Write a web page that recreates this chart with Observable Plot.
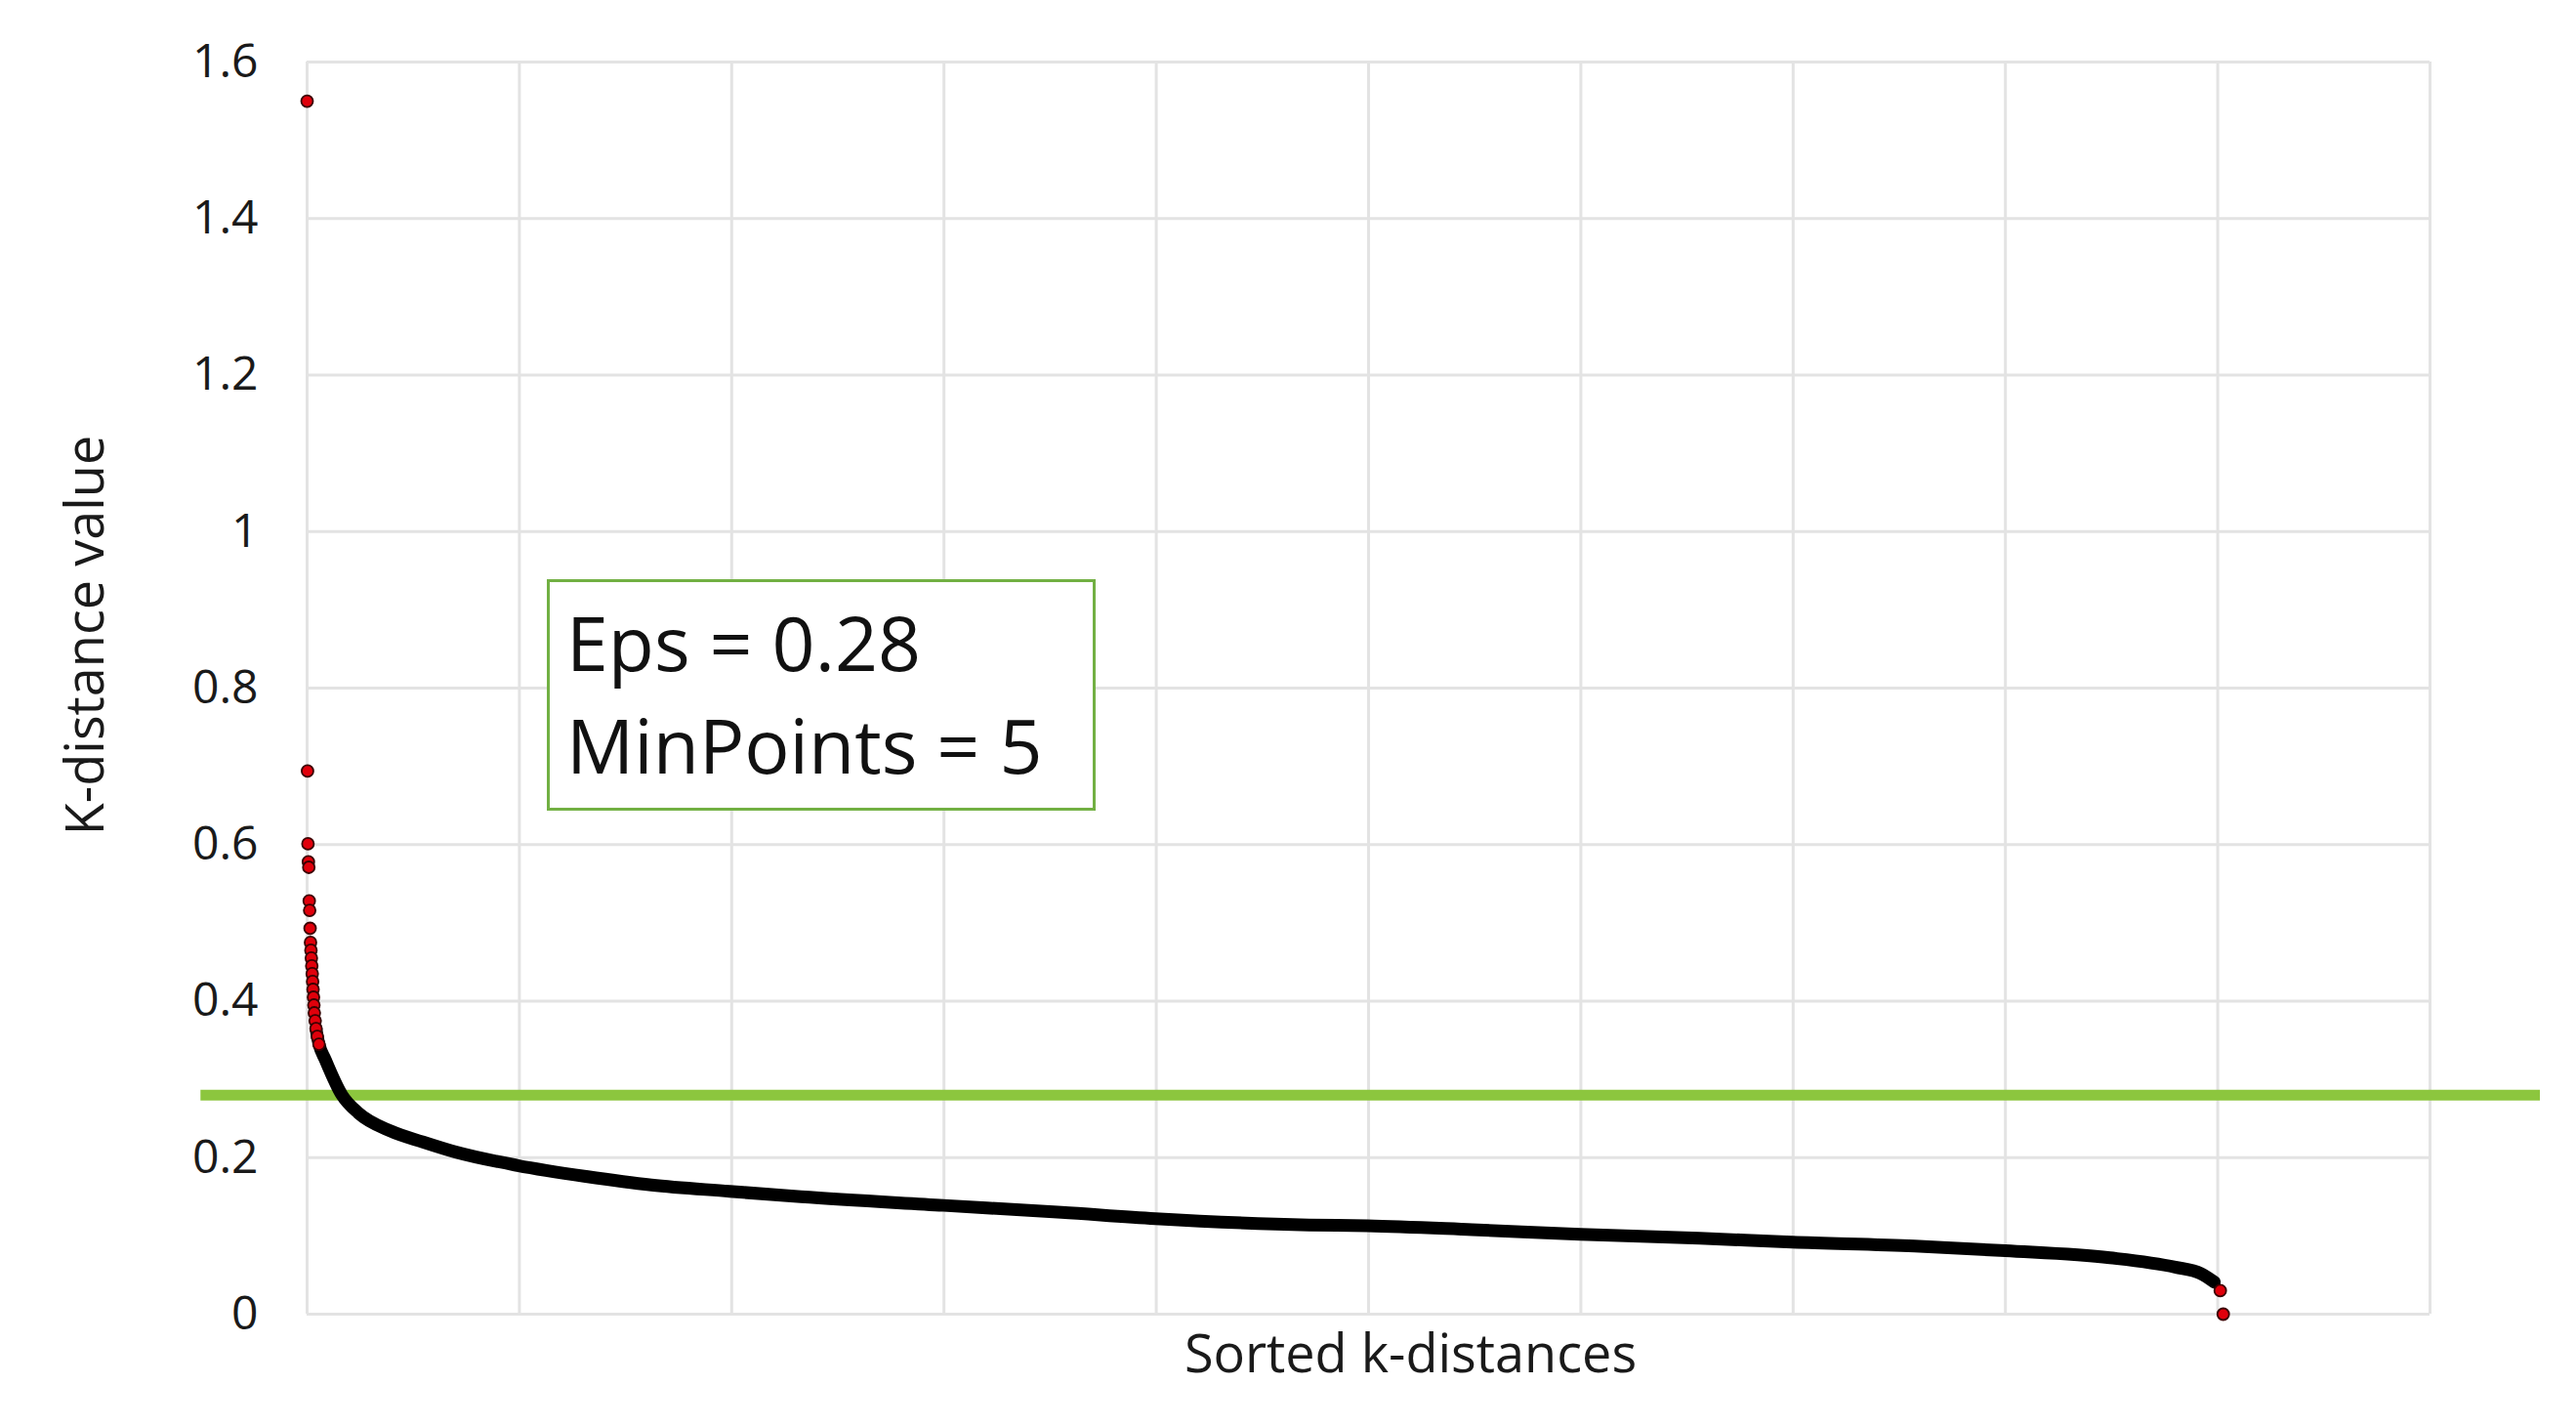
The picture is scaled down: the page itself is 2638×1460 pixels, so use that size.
<!DOCTYPE html>
<html>
<head>
<meta charset="utf-8">
<script src="https://cdn.jsdelivr.net/npm/d3@7"></script>
<script src="https://cdn.jsdelivr.net/npm/@observablehq/plot@0.6"></script>
<style>
  html, body { margin: 0; padding: 0; background: #fff; }
  #wrap { position: relative; width: 2638px; height: 1460px; }
  #note {
    position: absolute; left: 560px; top: 593px; width: 539px; height: 222px;
    border: 3px solid #72b043; background: #fff;
    font-family: "Open Sans", sans-serif; font-size: 77px; line-height: 105px;
    color: #111; padding: 9px 0 0 17px; box-sizing: content-box; white-space: pre;
  }
</style>
</head>
<body>
<div id="wrap"></div>
<script>
// ---- data ----
const rankIndex = [0, 1, 2, 3, 4, 5, 6, 7, 8, 9, 10, 11, 12, 13, 14, 15, 16, 17, 19, 21, 24, 28,
  43, 82, 121, 197, 273, 351, 496, 657, 811, 995, 1163, 1499, 1777, 1998, 2360, 2497, 2744,
  2999, 3280, 3498, 3786, 4000, 4246, 4400, 4460, 4492, 4506, 4513];
const kDistance = [1.55, 0.694, 0.601, 0.578, 0.571, 0.528, 0.516, 0.493, 0.475, 0.465, 0.455,
  0.445, 0.435, 0.425, 0.415, 0.405, 0.395, 0.385, 0.375, 0.365, 0.355, 0.345,
  0.325, 0.280, 0.257, 0.234, 0.220, 0.207, 0.190, 0.176, 0.165, 0.157, 0.150, 0.139, 0.130,
  0.122, 0.114, 0.113, 0.108, 0.102, 0.097, 0.092, 0.087, 0.081, 0.072, 0.060, 0.052, 0.041,
  0.030, 0.000];
const eps = 0.28;
const annotationLines = ["Eps = 0.28", "MinPoints = 5"];
const xTicks = [0, 500, 1000, 1500, 2000, 2500, 3000, 3500, 4000, 4500, 5000];
const yTicks = [0, 0.2, 0.4, 0.6, 0.8, 1, 1.2, 1.4, 1.6];
const xTitle = "Sorted k-distances";
const yTitle = "K-distance value";

// ---- table built from arrays ----
const points = rankIndex.map((r, i) => ({rank: r, k: kDistance[i]}));
const curvePts = points.filter(d => d.k <= 0.37 && d.rank < 4500);
const sparsePts = points.filter(d => d.k >= 0.34 || d.rank >= 4500);

const grid = {stroke: "#e3e3e3", strokeOpacity: 1, strokeWidth: 3};

const chart = Plot.plot({
  width: 2638,
  height: 1460,
  marginLeft: 314,
  marginRight: 150,
  marginTop: 63,
  marginBottom: 115,
  x: {domain: [0, 5000], axis: null},
  y: {domain: [0, 1.6], axis: null},
  style: {fontFamily: "'Open Sans', sans-serif", fontSize: "48px", color: "#1a1a1a", background: "#fff"},
  marks: [
    Plot.gridX(xTicks, grid),
    Plot.gridY(yTicks, grid),
    Plot.axisY(yTicks, {tickSize: 0, tickPadding: 50, tickFormat: d3.format("~g"), fontSize: 48, label: null}),
    Plot.text([yTitle], {frameAnchor: "left", textAnchor: "middle", rotate: -90, dx: -226, dy: -54, fontSize: 54, fill: "#1a1a1a"}),
    Plot.text([xTitle], {frameAnchor: "bottom", textAnchor: "middle", dx: 43, dy: 59, fontSize: 54, fill: "#1a1a1a"}),
    Plot.ruleY([eps], {x1: -250, x2: 5260, stroke: "#8cc63e", strokeWidth: 11}),
    Plot.line(curvePts, {x: "rank", y: "k", stroke: "#000", strokeWidth: 13, curve: "monotone-x", strokeLinecap: "round"}),
    Plot.dot(sparsePts, {x: "rank", y: "k", r: 6, fill: "#e0000b", stroke: "#3a0000", strokeWidth: 1.8})
  ]
});

const wrap = document.getElementById("wrap");
wrap.appendChild(chart);
const note = document.createElement("div");
note.id = "note";
note.textContent = annotationLines.join("\n");
wrap.appendChild(note);
</script>
</body>
</html>
